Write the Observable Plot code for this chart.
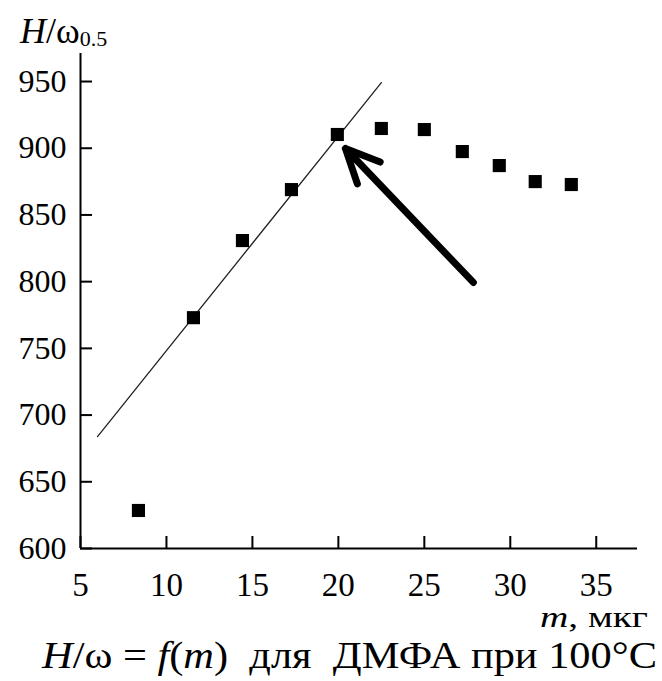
<!DOCTYPE html>
<html><head><meta charset="utf-8">
<script src="https://cdn.jsdelivr.net/npm/d3@7"></script>
<script src="https://cdn.jsdelivr.net/npm/@observablehq/plot@0.6"></script>
<style>body{margin:0;background:#fff} svg{display:block}</style>
</head><body><div id="chart"></div>
<script>
// measured points: mass m (мкг) and H/ω0.5
const massX = [8.37, 11.57, 14.42, 17.27, 19.94, 22.5, 25.0, 27.21, 29.36, 31.45, 33.55];
const ratioY = [628.5, 773, 830.8, 869, 910.3, 914.8, 914, 897.5, 887, 875, 872.8];
// linear fit segment endpoints
const fitX = [5.99, 22.5];
const fitY = [683.9, 949.2];
// arrow (tail -> head)
const arrowX = [27.85, 20.41];
const arrowY = [799.4, 899.8];
const xTicks = [5, 10, 15, 20, 25, 30, 35];
const yTicks = [600, 650, 700, 750, 800, 850, 900, 950];

const points = massX.map((m, i) => ({m, h: ratioY[i]}));
const fit = fitX.map((m, i) => ({m, h: fitY[i]}));
const arrow = [{x1: arrowX[0], y1: arrowY[0], x2: arrowX[1], y2: arrowY[1]}];

const serif = "'Liberation Serif', 'Times New Roman', serif";

const chart = Plot.plot({
  width: 662, height: 681,
  marginTop: 53, marginBottom: 133, marginLeft: 80, marginRight: 25,
  style: {fontFamily: serif, background: "#fff", color: "#000"},
  x: {domain: [5, 37.4]},
  y: {domain: [600, 971]},
  marks: [
    Plot.axisX({ticks: xTicks, tickSize: -12, tickPadding: 36, fontSize: 33, label: null, strokeWidth: 2}),
    Plot.axisY({ticks: yTicks, tickSize: -12, tickPadding: 26, fontSize: 32, label: null, strokeWidth: 2}),
    Plot.ruleX([5], {strokeWidth: 2, stroke: "#000"}),
    Plot.ruleY([600], {strokeWidth: 2, stroke: "#000"}),
    Plot.line(fit, {x: "m", y: "h", stroke: "#222", strokeWidth: 1.3}),
    Plot.dot(points, {x: "m", y: "h", symbol: "square", r: 7.4, fill: "#000", stroke: null}),
    Plot.arrow(arrow, {x1: "x1", y1: "y1", x2: "x2", y2: "y2", stroke: "#000", strokeWidth: 7, headLength: 8, headAngle: 50})
  ]
});

const svg = d3.select(chart);
// y-axis title
const yt = svg.append("text").attr("x", 20).attr("y", 43).attr("text-anchor", "start")
  .attr("font-family", serif).attr("font-size", 36).attr("fill", "#000");
yt.append("tspan").attr("font-style", "italic").text("H");
yt.append("tspan").text("/ω");
yt.append("tspan").attr("font-size", 22).attr("dy", 3).text("0.5");

// x-axis title
const xt = svg.append("text").attr("x", 540).attr("y", 627).attr("text-anchor", "start")
  .attr("font-family", serif).attr("font-size", 30).attr("fill", "#000")
  .attr("textLength", 108).attr("lengthAdjust", "spacingAndGlyphs");
xt.append("tspan").attr("font-style", "italic").text("m");
xt.append("tspan").text(", мкг");

// caption
const cap = svg.append("text").attr("x", 42).attr("y", 668).attr("text-anchor", "start")
  .attr("font-family", serif).attr("font-size", 37).attr("fill", "#000")
  .attr("textLength", 615).attr("lengthAdjust", "spacingAndGlyphs")
  .style("white-space", "pre");
cap.append("tspan").attr("font-style", "italic").text("H");
cap.append("tspan").text("/ω = ");
cap.append("tspan").attr("font-style", "italic").text("f");
cap.append("tspan").text("(");
cap.append("tspan").attr("font-style", "italic").text("m");
cap.append("tspan").text(")  для  ДМФА при 100°C");

document.getElementById("chart").appendChild(chart);
</script>
</body></html>
